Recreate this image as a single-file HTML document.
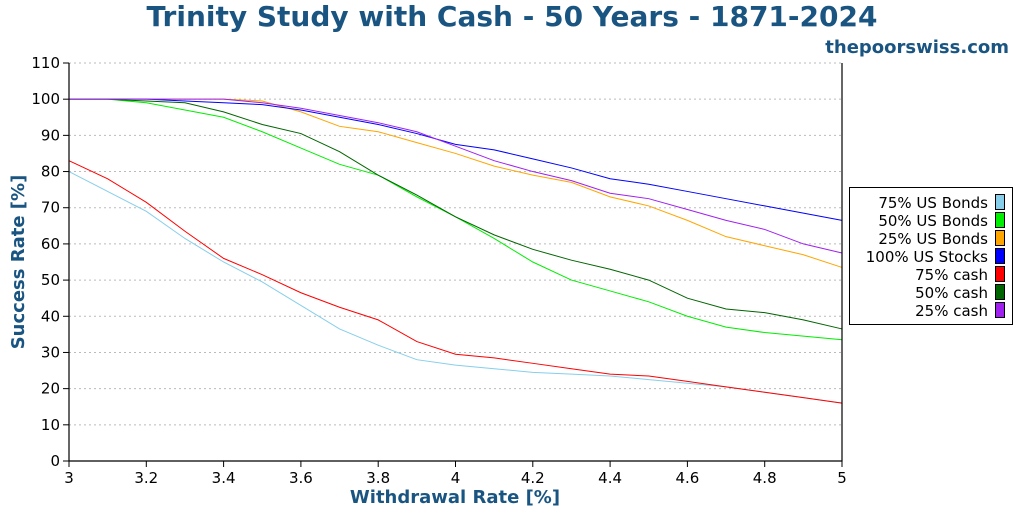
<!DOCTYPE html>
<html><head><meta charset="utf-8"><style>
body{margin:0;background:#fff;font-family:"DejaVu Sans","Liberation Sans",sans-serif}
svg text{font-family:"DejaVu Sans","Liberation Sans",sans-serif}
</style></head><body>
<svg id="chart" width="1024" height="512">
<text x="512" y="26" text-anchor="middle" font-size="28" font-weight="bold" fill="#1a5582">Trinity Study with Cash - 50 Years - 1871-2024</text>
<text x="1009" y="53" text-anchor="end" font-size="18" font-weight="bold" fill="#1a5582">thepoorswiss.com</text>
<g id="grid"></g><g id="series"></g><g id="axes"></g>
<text x="455" y="503" text-anchor="middle" font-size="18" font-weight="bold" fill="#1a5582">Withdrawal Rate [%]</text>
<text transform="translate(24,262) rotate(-90)" text-anchor="middle" font-size="18" font-weight="bold" fill="#1a5582">Success Rate [%]</text>
<g id="legend"></g>
</svg>
<script>
const rates=[3,3.1,3.2,3.3,3.4,3.5,3.6,3.7,3.8,3.9,4,4.1,4.2,4.3,4.4,4.5,4.6,4.7,4.8,4.9,5];
const seriesNames=["75% US Bonds","50% US Bonds","25% US Bonds","100% US Stocks","75% cash","50% cash","25% cash"];
const seriesColors=["#87ceeb","#00ee00","#ffa500","#0000ff","#ff0000","#006400","#a020f0"];
const bonds75=[80,74.5,69,61.5,55,49.5,43,36.5,32,28,26.5,25.5,24.5,24,23.5,22.5,21.5,20.5,19,17.5,16];
const bonds50=[100,100,99,97,95,91,86.5,82,79,73,67.5,61.5,55,50,47,44,40,37,35.5,34.5,33.5];
const bonds25=[100,100,100,100,100,99.5,96.5,92.5,91,88,85,81.5,79,77,73,70.5,66.5,62,59.5,57,53.5];
const stocks100=[100,100,100,99.5,99,98.5,97,95,93,90.5,87.5,86,83.5,81,78,76.5,74.5,72.5,70.5,68.5,66.5];
const cash75=[83,78,71.5,63.5,56,51.5,46.5,42.5,39,33,29.5,28.5,27,25.5,24,23.5,22,20.5,19,17.5,16];
const cash50=[100,100,99.5,99,96.5,93,90.5,85.5,79,73.5,67.5,62.5,58.5,55.5,53,50,45,42,41,39,36.5];
const cash25=[100,100,100,100,100,99,97.5,95.5,93.5,91,87,83,80,77.5,74,72.5,69.5,66.5,64,60,57.5];
const xTicks=[3,3.2,3.4,3.6,3.8,4,4.2,4.4,4.6,4.8,5];
const yTicks=[0,10,20,30,40,50,60,70,80,90,100,110];
const allSeries=[bonds75,bonds50,bonds25,stocks100,cash75,cash50,cash25];
const ns="http://www.w3.org/2000/svg";
const X0=69,X1=842,Y0=461,Y1=63;
const xs=v=>X0+(v-3)/2*(X1-X0);
const ys=v=>Y0-v/110*(Y0-Y1);
function mk(t,a,p){const e=document.createElementNS(ns,t);for(const k in a)e.setAttribute(k,a[k]);p.appendChild(e);return e;}
const grid=document.getElementById('grid'),axes=document.getElementById('axes'),ser=document.getElementById('series'),leg=document.getElementById('legend');
yTicks.forEach(t=>{
 if(t>0){const g=mk('line',{x1:X0,x2:X1,y1:ys(t),y2:ys(t),stroke:'#bbb','stroke-dasharray':'2,3'},grid);
 
 }
 const tk=mk('line',{x1:X0-6,x2:X0,y1:ys(t),y2:ys(t),stroke:'#000'},axes);
 
 
 const l=mk('text',{x:X0-9,y:ys(t)+5,'text-anchor':'end','font-size':15},axes);l.textContent=t;
 
 
});
xTicks.forEach(t=>{
 const tk=mk('line',{x1:xs(t),x2:xs(t),y1:Y0,y2:Y0+6,stroke:'#000'},axes);
 
 
 const l=mk('text',{x:xs(t),y:Y0+22,'text-anchor':'middle','font-size':15},axes);l.textContent=t;
 
 
});
const ax=mk('path',{d:`M${X0} ${Y1}V${Y0}H${X1}V${Y1}`,fill:'none',stroke:'#000','stroke-width':1.2},axes);


allSeries.forEach((d,i)=>{
 const p=mk('polyline',{points:d.map((v,j)=>xs(rates[j])+','+ys(v)).join(' '),fill:'none',stroke:seriesColors[i],'stroke-width':1},ser);
 
 
});
const lb=mk('rect',{x:849.5,y:187.5,width:163,height:137,fill:'#fff',stroke:'#000'},leg);


seriesNames.forEach((n,i)=>{
 const y=202+i*18;
 const t=mk('text',{x:988,y:y+6,'text-anchor':'end','font-size':15},leg);t.textContent=n;
 
 
 const s=mk('rect',{x:995.5,y:y-7.5,width:9,height:15,fill:seriesColors[i],stroke:'#000'},leg);
 
 
});
</script>
</body></html>
